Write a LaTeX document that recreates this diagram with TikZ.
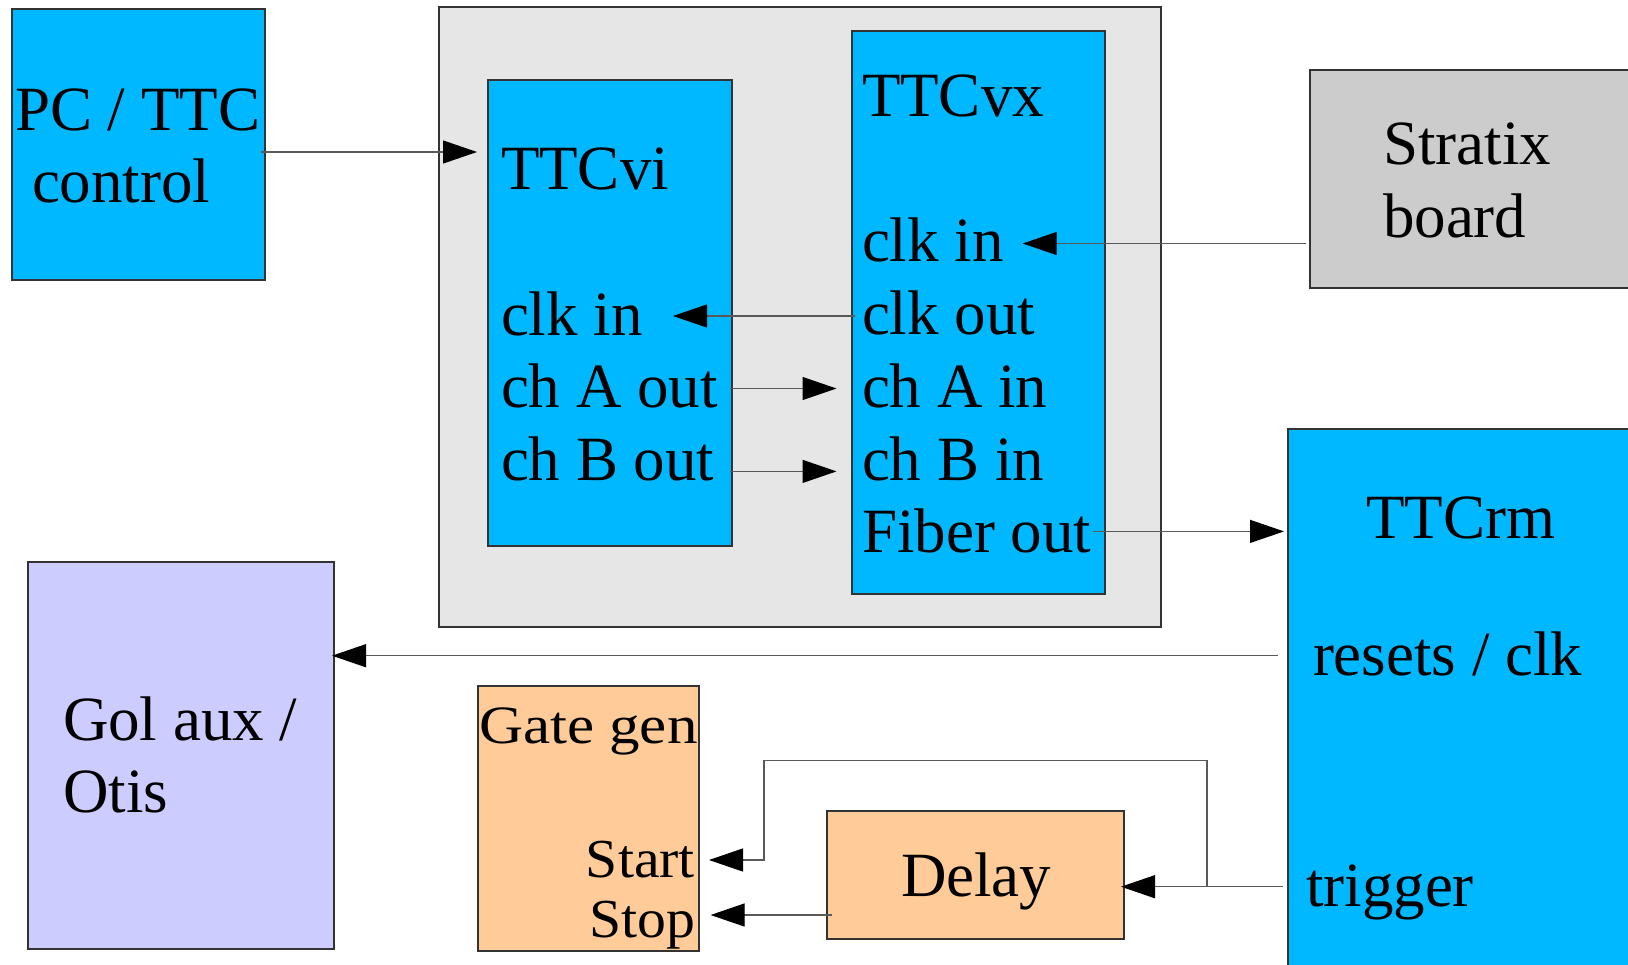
\documentclass[tikz,border=0pt]{standalone}
\usepackage{fontspec}
\setmainfont{Liberation Serif}
\usetikzlibrary{arrows.meta}
\definecolor{ttcblue}{RGB}{0,184,255}
\definecolor{crategray}{RGB}{230,230,230}
\definecolor{boardgray}{RGB}{204,204,204}
\definecolor{golviolet}{RGB}{204,204,255}
\definecolor{peach}{RGB}{255,204,153}
\begin{document}
\begin{tikzpicture}[x=1pt,y=-1pt,
  box/.style={draw=black!80, line width=1.3pt, anchor=north west,
    inner sep=0pt, outer sep=0pt},
  lbl/.style={font=\fontsize{63}{72}\selectfont, inner sep=0pt,
    outer sep=0pt, anchor=base west},
  gatelbl/.style={lbl, font=\fontsize{54}{60}\selectfont},
  portlbl/.style={lbl, font=\fontsize{55}{62}\selectfont, anchor=base east},
  wire/.style={draw=black!65, line width=1.2pt},
  conn/.style={wire, -{Triangle[length=34pt,width=23pt,color=black]}}]
\useasboundingbox (0,0) rectangle (1628,964);
\fill[white] (0,0) rectangle (1628,964);
\clip (0,0) rectangle (1628,964);

% ---------- boxes ----------
\node[box, fill=ttcblue, minimum width=253pt, minimum height=271pt] (pc) at (12,9) {};
\node[box, fill=crategray, minimum width=722pt, minimum height=620pt] (crate) at (439,7) {};
\node[box, fill=ttcblue, minimum width=244pt, minimum height=466pt] (vi) at (488,80) {};
\node[box, fill=ttcblue, minimum width=253pt, minimum height=563pt] (vx) at (852,31) {};
\node[box, fill=boardgray, minimum width=340pt, minimum height=218pt] (strat) at (1310,70) {};
\node[box, fill=ttcblue, minimum width=350pt, minimum height=560pt] (rm) at (1288,429) {};
\node[box, fill=golviolet, minimum width=306pt, minimum height=387pt] (gol) at (28,562) {};
\node[box, fill=peach, minimum width=221pt, minimum height=265pt] (gate) at (478,686) {};
\node[box, fill=peach, minimum width=297pt, minimum height=128pt] (delay) at (827,811) {};

% ---------- labels ----------
\node[lbl] (pctxt) at (15,130) {PC / TTC};
\node[lbl] (pctxtb) at (32,202) {control};

\node[lbl] (vititle) at (501,189) {TTCvi};
\node[lbl] (viclkin) at (501,335) {clk in};
\node[lbl] (vichA) at (501,407) {ch A out};
\node[lbl] (vichB) at (501,480) {ch B out};

\node[lbl] (vxtitle) at (862,116) {TTCvx};
\node[lbl] (vxclkin) at (862,261) {clk in};
\node[lbl] (vxclkout) at (862,334) {clk out};
\node[lbl] (vxchA) at (862,407) {ch A in};
\node[lbl] (vxchB) at (862,480) {ch B in};
\node[lbl] (vxfiber) at (862,552) {Fiber out};

\node[lbl] (strattxt) at (1383,164) {Stratix};
\node[lbl] (strattxtb) at (1383,237) {board};

\node[lbl] (rmtitle) at (1366,538) {TTCrm};
\node[lbl] (rmresets) at (1313,675) {resets / clk};
\node[lbl] (rmtrig) at (1306,906) {trigger};

\node[lbl] (goltxt) at (63,740) {Gol aux /};
\node[lbl] (goltxtb) at (63,812) {Otis};

\node[gatelbl] (gatetxt) at (479,743) {\scalebox{1.13}[1]{Gate gen}};
\node[portlbl] (gatestart) at (695,877) {\scalebox{1.05}[1]{Start}};
\node[portlbl] (gatestop) at (695,937) {\scalebox{1.05}[1]{Stop}};

\node[lbl] (delaytxt) at (901,896) {Delay};

% ---------- connectors ----------
% control link into the TTCvi
\draw[conn, shorten >=11pt] ([shift={(-4pt,-143pt)}]pc.north east)
  -- ([yshift=-143pt]pc.north east -| vi.west);
% clock from the TTCvx back to the TTCvi
\draw[conn] ([shift={(3pt,18pt)}]vxclkout.base -| vx.west)
  -- ([shift={(-59pt,18pt)}]vxclkout.base -| vi.east);
% channel A and B
\draw[conn, shorten >=15.5pt] ([shift={(-2pt,18.5pt)}]vichA.base -| vi.east)
  -- ([yshift=18.5pt]vichA.base -| vx.west);
\draw[conn, shorten >=15.5pt] ([shift={(-2pt,8.6pt)}]vichB.base -| vi.east)
  -- ([yshift=8.6pt]vichB.base -| vx.west);
% clock from the Stratix board
\draw[conn] ([shift={(-4pt,17.5pt)}]vxclkin.base -| strat.west)
  -- ([shift={(19pt,17.5pt)}]vxclkin.base east);
% fiber to the TTCrm
\draw[conn, shorten >=4pt] ([shift={(2pt,20.6pt)}]vxfiber.base east)
  -- ([yshift=20.6pt]vxfiber.base -| rm.west);
% resets / clk to Gol aux
\draw[conn, shorten >=-2pt] ([shift={(-10pt,19.3pt)}]rmresets.base -| rm.west)
  -- ([yshift=19.3pt]rmresets.base -| gol.east);
% gate output to Gol aux
\draw[conn, shorten >=3.5pt] ([shift={(3pt,-52.7pt)}]gatestop.base -| gate.west)
  -- ([yshift=-52.7pt]gatestop.base -| gol.east);
% trigger into the delay
\draw[conn, shorten >=-3pt] ([shift={(-5pt,19.3pt)}]rmtrig.base -| rm.west)
  -- ([yshift=19.3pt]rmtrig.base -| delay.east);
% trigger branch to Start
\coordinate (trigsplit) at ([shift={(-81pt,19.3pt)}]rmtrig.base -| rm.west);
\coordinate (startturn) at (764,760.7);
\draw[conn, shorten >=10pt] (trigsplit) |- (startturn)
  -- ([yshift=17pt]gatestart.base -| startturn)
  -- ([yshift=17pt]gatestart.base -| gate.east);
% delayed trigger to Stop
\draw[conn, shorten >=11.6pt] ([shift={(5pt,22pt)}]gatestop.base -| delay.west)
  -- ([yshift=22pt]gatestop.base -| gate.east);
\end{tikzpicture}
\end{document}
